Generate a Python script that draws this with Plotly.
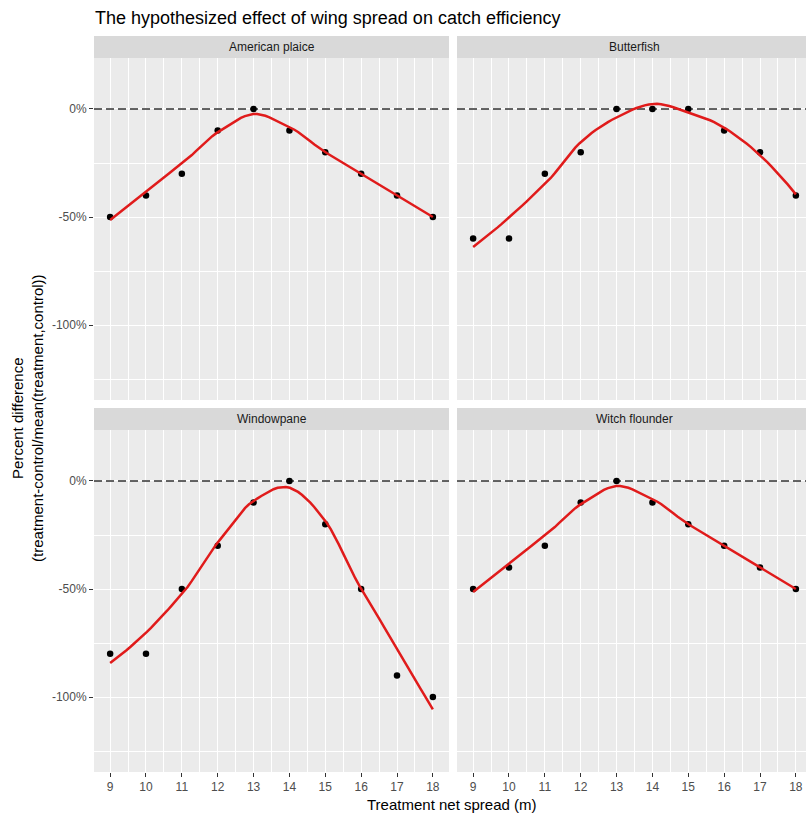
import numpy as np
import plotly.graph_objects as go

# Treatment net spread (m) and the hypothesized percent difference per species
spread = [9, 10, 11, 12, 13, 14, 15, 16, 17, 18]
species = ["American plaice", "Butterfish", "Windowpane", "Witch flounder"]
american_plaice = [-50, -40, -30, -10, 0, -10, -20, -30, -40, -50]
butterfish = [-60, -60, -30, -20, 0, 0, 0, -10, -20, -40]
windowpane = [-80, -80, -50, -30, -10, 0, -20, -50, -90, -100]
witch_flounder = [-50, -40, -30, -10, 0, -10, -20, -30, -40, -50]
series = [american_plaice, butterfish, windowpane, witch_flounder]

y_ticks = [-100, -50, 0]
y_tick_labels = ["-100%", "-50%", "0%"]
x_tick_labels = [str(v) for v in spread]

TITLE = "The hypothesized effect of wing spread on catch efficiency"
X_TITLE = "Treatment net spread (m)"
Y_TITLE = "Percent difference<br>(treatment-control/mean(treatment,control))"


def local_fit(x, y, x0, q):
    """Weighted local quadratic fit at x0; returns value and slope."""
    d = np.abs(x - x0)
    h = np.sort(d)[q - 1] * 1.0000001
    u = np.clip(d / h, 0, 1)
    w = (1 - u ** 3) ** 3
    X = np.column_stack([np.ones_like(x), x - x0, (x - x0) ** 2])
    A = X.T @ (w[:, None] * X)
    b = X.T @ (w * y)
    beta = np.linalg.lstsq(A, b, rcond=None)[0]
    return beta[0], beta[1]


def loess(x, y, grid, span=0.75):
    """Loess (degree 2, tricube) fitted at vertices, blended with cubic Hermite."""
    x = np.asarray(x, float)
    y = np.asarray(y, float)
    q = int(np.floor(len(x) * span))
    verts = np.unique(x)
    fits = np.array([local_fit(x, y, v, q) for v in verts])
    val, slope = fits[:, 0], fits[:, 1]
    out = []
    for g in grid:
        j = min(np.searchsorted(verts, g, side="right") - 1, len(verts) - 2)
        j = max(j, 0)
        x0, x1 = verts[j], verts[j + 1]
        hh = x1 - x0
        t = (g - x0) / hh
        h00 = 2 * t ** 3 - 3 * t ** 2 + 1
        h10 = t ** 3 - 2 * t ** 2 + t
        h01 = -2 * t ** 3 + 3 * t ** 2
        h11 = t ** 3 - t ** 2
        out.append(h00 * val[j] + h10 * hh * slope[j] + h01 * val[j + 1] + h11 * hh * slope[j + 1])
    return np.array(out)


W, H = 806, 816
FONT = "Liberation Sans"
PANEL_BG = "#EBEBEB"
STRIP_BG = "#D9D9D9"

# pixel boxes of the panel grid
cols = [(94, 449), (457, 806)]
panel_w = 355
rows = [(58, 400), (430, 772)]
strip_h = 22
unit_px = panel_w / 9.9
x_lo = 8.55
y_range = [-134.7, 23.6]


def px_x(p):
    return p / W


def px_y(p):
    return 1 - p / H


fig = go.Figure()
layout = {}
shapes = []
annotations = []

grid = np.linspace(min(spread), max(spread), 80)

for i, (name, vals) in enumerate(zip(species, series)):
    r, c = divmod(i, 2)
    k = i + 1
    xa = "x" if k == 1 else f"x{k}"
    ya = "y" if k == 1 else f"y{k}"
    xkey = "xaxis" if k == 1 else f"xaxis{k}"
    ykey = "yaxis" if k == 1 else f"yaxis{k}"
    (cx0, cx1), (ry0, ry1) = cols[c], rows[r]

    x_hi = x_lo + (cx1 - cx0) / unit_px
    layout[xkey] = dict(
        domain=[px_x(cx0), px_x(cx1)], anchor=ya, range=[x_lo, x_hi],
        tickvals=spread, ticktext=x_tick_labels,
        showticklabels=(r == 1), ticks="outside" if r == 1 else "",
        ticklen=4, tickwidth=1, tickcolor="#333333",
        tickfont=dict(family=FONT, size=12, color="#4D4D4D"),
        showgrid=True, gridcolor="white", gridwidth=1.3,
        minor=dict(tickmode="linear", tick0=8.5, dtick=1, showgrid=True,
                   gridcolor="white", gridwidth=0.6, ticks=""),
        zeroline=False, showline=False, fixedrange=True,
    )
    layout[ykey] = dict(
        domain=[px_y(ry1), px_y(ry0)], anchor=xa, range=y_range,
        tickvals=y_ticks, ticktext=y_tick_labels,
        showticklabels=(c == 0), ticks="outside" if c == 0 else "",
        ticklen=4, tickwidth=1, tickcolor="#333333",
        tickfont=dict(family=FONT, size=12, color="#4D4D4D"),
        showgrid=True, gridcolor="white", gridwidth=1.3,
        minor=dict(tickmode="linear", tick0=-125, dtick=50, showgrid=True,
                   gridcolor="white", gridwidth=0.6, ticks=""),
        zeroline=False, showline=False, fixedrange=True,
    )

    # strip with the species name
    shapes.append(dict(type="rect", xref="paper", yref="paper",
                       x0=px_x(cx0), x1=px_x(cx1),
                       y0=px_y(ry0), y1=px_y(ry0 - strip_h),
                       fillcolor=STRIP_BG, line=dict(width=0), layer="below"))
    annotations.append(dict(text=name, xref="paper", yref="paper",
                            x=px_x(cx0 + panel_w / 2),
                            y=px_y(ry0 - strip_h / 2),
                            showarrow=False, xanchor="center", yanchor="middle",
                            font=dict(family=FONT, size=12, color="#1A1A1A")))

    # dashed reference line at zero across the panel
    fig.add_trace(go.Scatter(x=[x_lo, x_hi], y=[0, 0], mode="lines",
                             xaxis=xa, yaxis=ya,
                             line=dict(color="#333333", width=1.4, dash="8px,4px"),
                             showlegend=False, hoverinfo="skip"))
    fig.add_trace(go.Scatter(x=spread, y=vals, mode="markers", xaxis=xa, yaxis=ya,
                             marker=dict(color="black", size=6.5),
                             showlegend=False, hoverinfo="skip"))
    fig.add_trace(go.Scatter(x=grid, y=loess(spread, vals, grid), mode="lines",
                             xaxis=xa, yaxis=ya,
                             line=dict(color="#E01B1B", width=2.5),
                             showlegend=False, hoverinfo="skip"))

annotations.append(dict(text=TITLE, xref="paper", yref="paper",
                        x=px_x(93), y=px_y(18), xanchor="left", yanchor="middle",
                        showarrow=False,
                        font=dict(family=FONT, size=18, color="black")))
annotations.append(dict(text=X_TITLE, xref="paper", yref="paper",
                        x=px_x(452), y=px_y(804), xanchor="center", yanchor="middle",
                        showarrow=False,
                        font=dict(family=FONT, size=15, color="black")))
annotations.append(dict(text=Y_TITLE, xref="paper", yref="paper",
                        x=px_x(28), y=px_y(418), xanchor="center", yanchor="middle",
                        textangle=-90, showarrow=False,
                        font=dict(family=FONT, size=15, color="black")))

fig.update_layout(
    width=W, height=H,
    margin=dict(l=0, r=0, t=0, b=0),
    paper_bgcolor="white", plot_bgcolor=PANEL_BG,
    shapes=shapes, annotations=annotations,
    showlegend=False,
    **layout,
)

fig.write_html("out.html", config={"displayModeBar": False})
